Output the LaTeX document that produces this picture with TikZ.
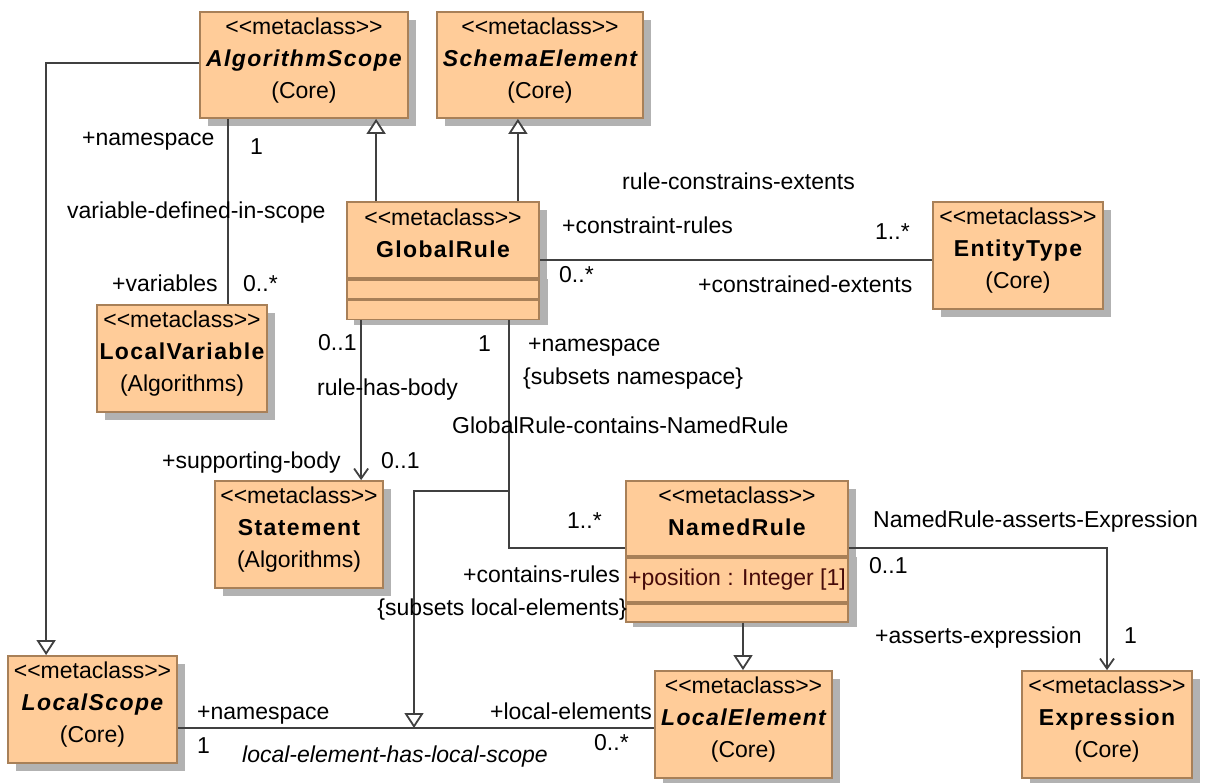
\documentclass[tikz,border=0pt]{standalone}
\usepackage{fontspec}
\setmainfont{Liberation Sans}[Ligatures=TeXOff]
\newfontfamily\namefont[LetterSpace=6]{Liberation Sans}
\usetikzlibrary{arrows.meta}
\usetikzlibrary{positioning}
\usetikzlibrary{shadows}
\definecolor{classfill}{RGB}{255,204,153}
\definecolor{classborder}{RGB}{168,128,88}
\definecolor{umlshadow}{RGB}{178,178,178}
\definecolor{umlline}{RGB}{64,64,64}
\definecolor{attrtext}{RGB}{70,10,10}

\newcommand{\umlsize}{\fontsize{23pt}{32pt}\selectfont}
\newcommand{\stereo}{<<metaclass>>}
\newcommand{\clsname}[1]{{\namefont\bfseries #1}}
\newcommand{\absname}[1]{{\namefont\bfseries\itshape #1}}

\tikzset{
  umlclass/.style={draw=classborder,fill=classfill,line width=1.8pt,align=center,
    inner xsep=2pt,inner ysep=2pt,text depth=14pt,font=\umlsize,
    drop shadow={shadow xshift=8pt,shadow yshift=-8pt,fill=umlshadow,opacity=1}},
  compart/.style={draw=classborder,fill=classfill,line width=1.8pt,inner sep=0pt,font=\umlsize},
  lbl/.style={anchor=west,inner sep=0pt,text height=16pt,text depth=5pt,font=\umlsize},
  assoc/.style={draw=umlline,line width=1.8pt},
  gen/.style={assoc,-{Triangle[open,fill=white,length=15pt,width=19pt]}},
  nav/.style={assoc,-{Straight Barb[length=10pt,width=14pt]}},
}

\begin{document}
\begin{tikzpicture}[x=1pt,y=-1pt]
\useasboundingbox (0,0) rectangle (1218,783);

%% classes
% top row
\node[umlclass,minimum width=208pt,minimum height=106pt] (algScope) at (304,65) {\stereo\\\absname{AlgorithmScope}\\(Core)};
\node[umlclass,minimum width=206pt,minimum height=106pt] (schemaEl) at (540,65) {\stereo\\\absname{SchemaElement}\\(Core)};
% global rule, two empty compartments under it
\node[umlclass,minimum width=192pt,minimum height=76pt] (grHead) at (443,240) {\stereo\\\clsname{GlobalRule}};
\fill[umlshadow] ([xshift=8pt]grHead.south west) rectangle ([xshift=8pt,yshift=-46pt]grHead.south east);
\node[compart,minimum width=192pt,minimum height=19pt,below=0pt of grHead] (grAttr) {};
\node[compart,minimum width=192pt,minimum height=19pt,below=0pt of grAttr] (grOps) {};
\node[umlclass,minimum width=170pt,minimum height=107pt] (entType) at (1018,255.5) {\stereo\\\clsname{EntityType}\\(Core)};
% middle
\node[umlclass,minimum width=170pt,minimum height=107pt] (locVar) at (182,358.5) {\stereo\\\clsname{LocalVariable}\\(Algorithms)};
\node[umlclass,minimum width=168pt,minimum height=107pt] (stmt) at (299,534.5) {\stereo\\\clsname{Statement}\\(Algorithms)};
\node[umlclass,minimum width=222pt,minimum height=75pt] (nrHead) at (737,518.5) {\stereo\\\clsname{NamedRule}};
\fill[umlshadow] ([xshift=8pt]nrHead.south west) rectangle ([xshift=8pt,yshift=-70pt]nrHead.south east);
\node[compart,minimum width=222pt,minimum height=44pt,below=0pt of nrHead,text=attrtext] (nrAttr) {+position : Integer [1]};
\node[compart,minimum width=222pt,minimum height=18pt,below=0pt of nrAttr] (nrOps) {};
% bottom row
\node[umlclass,minimum width=169pt,minimum height=107pt] (locScope) at (92.5,709.5) {\stereo\\\absname{LocalScope}\\(Core)};
\node[umlclass,minimum width=177pt,minimum height=107pt] (locEl) at (743.5,724.5) {\stereo\\\absname{LocalElement}\\(Core)};
\node[umlclass,minimum width=170pt,minimum height=107pt] (expr) at (1107,724.5) {\stereo\\\clsname{Expression}\\(Core)};

%% connectors
% generalizations
\coordinate (asLeft) at ([yshift=2pt]algScope.west);
\coordinate (lsTop) at ([xshift=39pt]locScope.north west);
\draw[gen] (asLeft) -| (lsTop);
\coordinate (grTopA) at ([xshift=30pt]grHead.north west);
\coordinate (grTopS) at ([xshift=-22pt]grHead.north east);
\draw[gen] (grTopA) -- (grTopA |- algScope.south);
\draw[gen] (grTopS) -- (grTopS |- schemaEl.south);
\coordinate (nrBot) at ([xshift=6pt]nrOps.south);
\draw[gen] (nrBot) -- (nrBot |- locEl.north);
% associations
\coordinate (asBot) at ([xshift=29pt]algScope.south west);
\draw[assoc] (asBot) -- (asBot |- locVar.north);
\coordinate (grRight) at ([yshift=19pt]grHead.south east);
\draw[assoc] (grRight) -- (grRight -| entType.west);
\coordinate (grBotL) at ([xshift=15pt]grOps.south west);
\draw[nav] (grBotL) -- (grBotL |- stmt.north);
\coordinate (grBotR) at ([xshift=-31pt]grOps.south east);
\coordinate (nrLeft) at ([yshift=9pt]nrHead.south west);
\draw[assoc] (grBotR) |- (nrLeft);
\coordinate (nrRight) at ([yshift=9pt]nrHead.south east);
\draw[nav] (nrRight) -| (expr.north);
\coordinate (lsRight) at ([yshift=-18.5pt]locScope.east);
\draw[assoc] (lsRight) -- (lsRight -| locEl.west);
% association to association
\coordinate (assocJoin) at (grBotR |- 0,491);
\coordinate (genTip) at (414,0 |- lsRight);
\draw[gen] (assocJoin) -| (genTip);

%% labels
% variable-defined-in-scope
\node[lbl] (vdNs) at (82,140) {+namespace};
\node[lbl] (vdOne) at (250,149) {1};
\node[lbl] (vdName) at (67,213) {variable-defined-in-scope};
\node[lbl] (vdVars) at (112,286) {+variables};
\node[lbl] (vdMany) at (243,286) {0..*};
% rule-constrains-extents
\node[lbl] (rcName) at (622,184) {rule-constrains-extents};
\node[lbl] (rcRules) at (562,228) {+constraint-rules};
\node[lbl] (rcOneMany) at (875,234) {1..*};
\node[lbl] (rcMany) at (559,277) {0..*};
\node[lbl] (rcExt) at (698,287) {+constrained-extents};
% rule-has-body
\node[lbl] (rbOpt) at (318,345) {0..1};
\node[lbl] (rbName) at (317,390) {rule-has-body};
\node[lbl] (rbBody) at (162,463) {+supporting-body};
\node[lbl] (rbOptB) at (381,463) {0..1};
% GlobalRule-contains-NamedRule
\node[lbl] (gcOne) at (478,346) {1};
\node[lbl] (gcNs) at (528,346) {+namespace};
\node[lbl] (gcSub) at (523,379) {\{subsets namespace\}};
\node[lbl] (gcName) at (452,428) {GlobalRule-contains-NamedRule};
\node[lbl] (gcOneMany) at (567,523) {1..*};
\node[lbl,anchor=east] (gcRules) at (620,577) {+contains-rules};
\node[lbl,anchor=east] (gcSubL) at (627,610) {\{subsets local-elements\}};
% NamedRule-asserts-Expression
\node[lbl] (naName) at (873,522) {NamedRule-asserts-Expression};
\node[lbl] (naOpt) at (869,568) {0..1};
\node[lbl] (naExpr) at (875,638) {+asserts-expression};
\node[lbl] (naOne) at (1124,638) {1};
% local-element-has-local-scope
\node[lbl] (leNs) at (197,714) {+namespace};
\node[lbl] (leOne) at (197,748) {1};
\node[lbl] (leName) at (242,757) {\itshape local-element-has-local-scope};
\node[lbl,anchor=east] (leElems) at (652,714) {+local-elements};
\node[lbl] (leMany) at (594,745) {0..*};

\end{tikzpicture}
\end{document}
